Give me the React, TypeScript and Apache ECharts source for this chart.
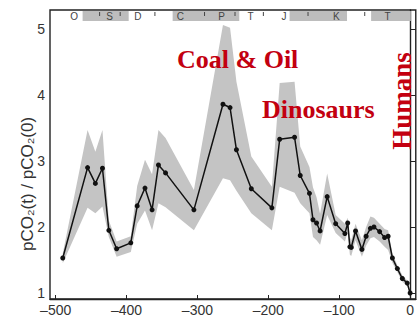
import React, { useEffect, useRef } from "react";
import * as echarts from "echarts";

// Age in millions of years (negative = past)
const ages = [-490, -455, -444, -434, -425, -414, -394, -385, -374, -364, -355, -345, -305, -264, -254, -245, -224, -195, -184, -163, -155, -142, -137, -132, -127, -117, -105, -92, -88, -85, -83, -77, -68, -62, -56, -51, -43, -36, -31, -25, -18, -11, -4, 0];
// pCO2(t)/pCO2(0) best estimate
const co2 = [1.53, 2.90, 2.66, 2.89, 1.95, 1.67, 1.76, 2.32, 2.59, 2.26, 2.94, 2.82, 2.26, 3.86, 3.81, 3.17, 2.58, 2.29, 3.33, 3.36, 2.78, 2.51, 2.11, 2.06, 1.94, 2.46, 2.05, 1.90, 2.06, 1.70, 1.69, 1.94, 1.66, 1.86, 1.98, 2.00, 1.93, 1.84, 1.86, 1.53, 1.37, 1.22, 1.15, 1.00];
// uncertainty envelope
const upper = [1.60, 3.47, 3.14, 3.47, 2.10, 1.78, 1.86, 2.62, 3.02, 2.80, 3.47, 3.35, 2.56, 5.06, 5.02, 4.20, 3.07, 2.61, 4.18, 4.20, 3.22, 2.91, 2.60, 2.45, 2.20, 2.81, 2.18, 2.05, 2.14, 1.85, 1.80, 2.05, 1.80, 2.00, 2.16, 2.14, 2.05, 1.97, 1.95, 1.60, 1.42, 1.27, 1.19, 1.03];
const lower = [1.45, 2.29, 2.21, 2.31, 1.85, 1.55, 1.62, 2.05, 2.25, 1.95, 2.36, 2.30, 1.95, 2.74, 2.71, 2.55, 2.21, 1.95, 2.61, 2.52, 2.36, 2.21, 1.85, 1.80, 1.73, 2.18, 1.91, 1.78, 1.92, 1.58, 1.56, 1.80, 1.55, 1.72, 1.83, 1.85, 1.78, 1.70, 1.65, 1.46, 1.32, 1.17, 1.11, 0.97];

const xTicks = [-500, -400, -300, -200, -100, 0];
const yTicks = [1, 2, 3, 4, 5];

const periodLabels = ["O", "S", "D", "C", "P", "T", "J", "K", "T"];
const periodLabelAges = [-474, -424, -384, -324, -266, -225, -178, -104, -32];
const periodBoundaries = [-438, -409, -360, -290, -247, -207, -144, -64];
const shadedStarts = [-462, -335, -170, -55];
const shadedEnds = [-397, -241, -89, 1];

const X_MIN = -508;
const X_MAX = 8;
const Y_MIN = 0.909;
const Y_MAX = 5.288;

export default function App() {
  const ref = useRef<HTMLDivElement>(null);
  useEffect(() => {
    if (!ref.current) return;
    const chart = echarts.init(ref.current, null, { renderer: "svg" });
    const red = "#c30010";
    const option: any = {
      animation: false,
      backgroundColor: "#ffffff",
      grid: {
        left: 50,
        right: 1,
        top: 10,
        bottom: 21,
        show: true,
        borderColor: "#222",
        borderWidth: 1.4,
      },
      xAxis: {
        type: "value",
        min: X_MIN,
        max: X_MAX,
        splitLine: { show: false },
        axisLine: { lineStyle: { color: "#222", width: 1.4 } },
        axisTick: { inside: true, length: 4, customValues: xTicks, lineStyle: { color: "#222" } },
        axisLabel: {
          customValues: xTicks,
          color: "#333",
          fontSize: 14,
          fontFamily: "Liberation Sans, Arial, sans-serif",
          margin: 4,
          formatter: (v: number) => (v < 0 ? "\u2013" + Math.abs(v) : String(v)),
        },
      },
      yAxis: [
        {
          type: "value",
          min: Y_MIN,
          max: Y_MAX,
          splitLine: { show: false },
          axisLine: { show: true, lineStyle: { color: "#222", width: 1.4 } },
          axisTick: { show: true, inside: true, length: 4, customValues: yTicks, lineStyle: { color: "#222" } },
          axisLabel: {
            customValues: yTicks,
            color: "#333",
            fontSize: 14,
            fontFamily: "Liberation Sans, Arial, sans-serif",
            margin: 5,
          },
        },
        {
          type: "value",
          position: "right",
          min: Y_MIN,
          max: Y_MAX,
          splitLine: { show: false },
          axisLine: { show: false },
          axisTick: { show: true, inside: true, length: 4, customValues: yTicks, lineStyle: { color: "#222" } },
          axisLabel: { show: false },
        },
      ],
      graphic: [
        {
          type: "text",
          x: 27,
          y: 184,
          rotation: Math.PI / 2,
          style: {
            text: "pCO\u2082(t) / pCO\u2082(0)",
            font: "17px 'Liberation Sans', Arial, sans-serif",
            fill: "#333",
            align: "center",
            verticalAlign: "middle",
          },
        },
        {
          type: "text",
          x: 177,
          y: 59,
          style: {
            text: "Coal & Oil",
            font: "bold 26px 'Liberation Serif', 'Times New Roman', serif",
            fill: red,
            align: "left",
            verticalAlign: "middle",
          },
          z: 10,
        },
        {
          type: "text",
          x: 262,
          y: 109,
          style: {
            text: "Dinosaurs",
            font: "bold 26px 'Liberation Serif', 'Times New Roman', serif",
            fill: red,
            align: "left",
            verticalAlign: "middle",
          },
          z: 10,
        },
        {
          type: "text",
          x: 402,
          y: 101,
          rotation: Math.PI / 2,
          style: {
            text: "Humans",
            font: "bold 27px 'Liberation Serif', 'Times New Roman', serif",
            fill: red,
            align: "center",
            verticalAlign: "middle",
          },
          z: 10,
        },
      ],
      series: [
        {
          type: "custom",
          silent: true,
          z: 1,
          encode: { x: 0, y: 1 },
          data: [[ages[0], co2[0]]],
          renderItem: (params: any, api: any) => {
            if (params.dataIndex !== 0) return null;
            const pts: number[][] = [];
            for (let i = 0; i < ages.length; i++) pts.push(api.coord([ages[i], upper[i]]));
            for (let i = ages.length - 1; i >= 0; i--) pts.push(api.coord([ages[i], lower[i]]));
            return { type: "polygon", shape: { points: pts }, style: { fill: "#c4c4c4" } };
          },
        },
        {
          type: "custom",
          silent: true,
          z: 1,
          encode: { x: [0, 1], y: 2 },
          data: shadedStarts.map((s, i) => [s, shadedEnds[i], Y_MAX]),
          renderItem: (params: any, api: any) => {
            const p1 = api.coord([api.value(0), Y_MAX]);
            const p2 = api.coord([api.value(1), Y_MAX]);
            return {
              type: "rect",
              shape: { x: p1[0], y: p1[1] + 1, width: p2[0] - p1[0], height: 10 },
              style: { fill: "#bdbdbd" },
            };
          },
        },
        {
          type: "custom",
          silent: true,
          z: 2,
          encode: { x: 0, y: 1 },
          data: periodBoundaries.map((b) => [b, Y_MAX]),
          renderItem: (params: any, api: any) => {
            const p = api.coord([api.value(0), Y_MAX]);
            return {
              type: "line",
              shape: { x1: p[0], y1: p[1] + 2, x2: p[0], y2: p[1] + 6 },
              style: { stroke: "#444", lineWidth: 1 },
            };
          },
        },
        {
          type: "custom",
          silent: true,
          z: 3,
          encode: { x: 0, y: 1 },
          data: periodLabelAges.map((a) => [a, Y_MAX]),
          renderItem: (params: any, api: any) => {
            const p = api.coord([api.value(0), Y_MAX]);
            return {
              type: "text",
              x: p[0],
              y: p[1] + 6,
              style: {
                text: periodLabels[params.dataIndex],
                font: "10px 'Liberation Sans', Arial, sans-serif",
                fill: "#444",
                align: "center",
                verticalAlign: "middle",
              },
            };
          },
        },
        {
          type: "line",
          z: 5,
          data: ages.map((a, i) => [a, co2[i]]),
          symbol: "circle",
          symbolSize: 5,
          showSymbol: true,
          lineStyle: { color: "#111", width: 1.5 },
          itemStyle: { color: "#111" },
        },
      ],
    };
    chart.setOption(option);
    return () => chart.dispose();
  }, []);
  return (
    <div
      ref={ref}
      style={{ position: "fixed", left: 0, top: 0, width: 417, height: 320, background: "#fff" }}
    />
  );
}
